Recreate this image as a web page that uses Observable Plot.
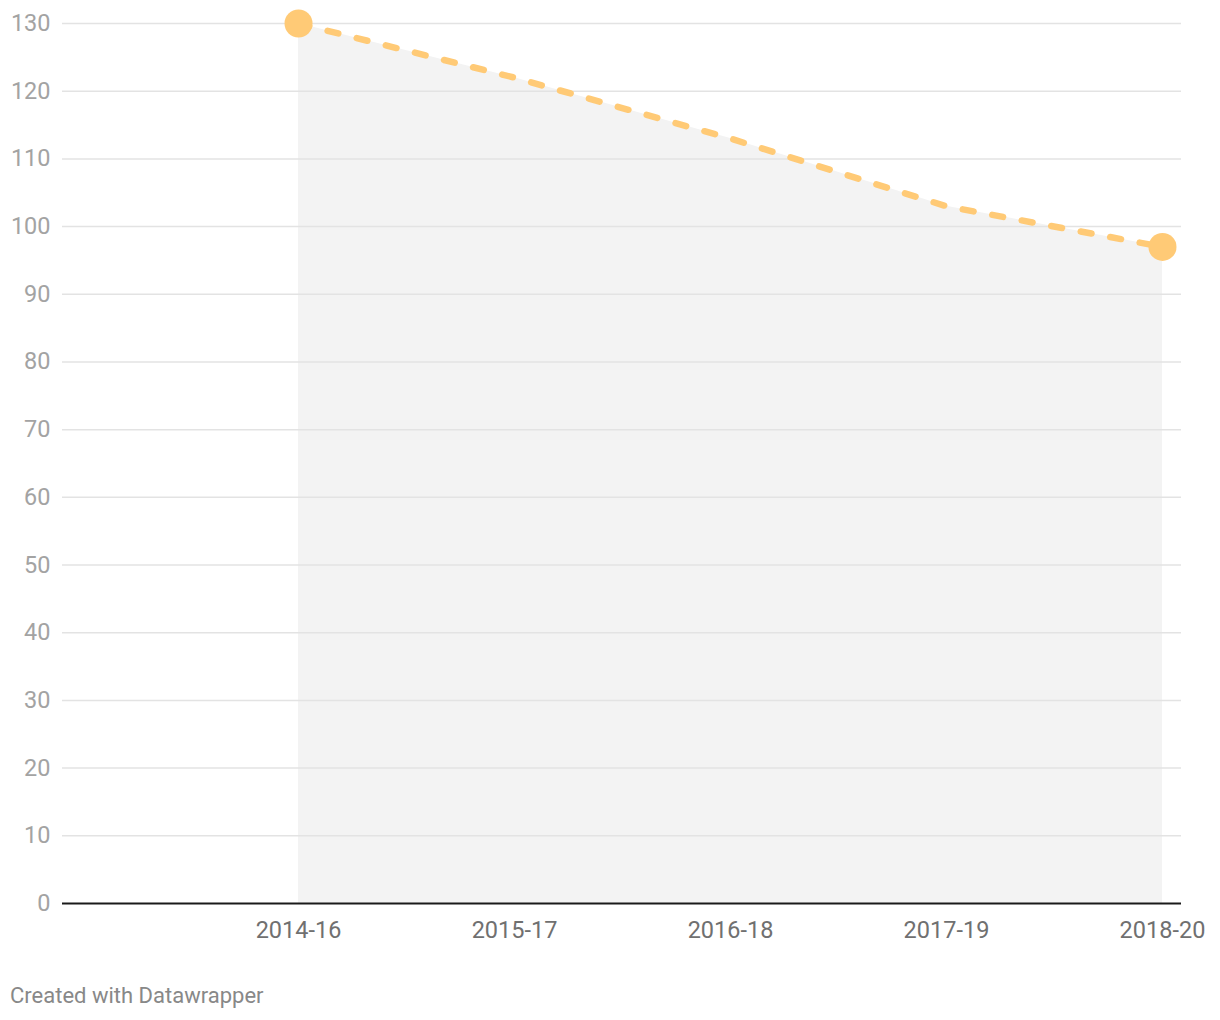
<!DOCTYPE html>
<html>
<head>
<meta charset="utf-8">
<script src="https://cdn.jsdelivr.net/npm/d3@7"></script>
<script src="https://cdn.jsdelivr.net/npm/@observablehq/plot@0.6"></script>
<style>
  body { margin: 0; background: #fff; font-family: Roboto, "Noto Sans", sans-serif; }
  #chart svg { display: block; }
  .caption { font-family: Roboto, sans-serif; font-size: 22px; color: #888; margin: 8px 0 0 10px; line-height: 26px; }
</style>
</head>
<body>
<div id="chart"></div>
<div class="caption">Created with Datawrapper</div>
<script>
const periods = ["2014-16", "2015-17", "2016-18", "2017-19", "2018-20"];
const values = [130, 122, 113, 103, 97];
const yTicks = [0, 10, 20, 30, 40, 50, 60, 70, 80, 90, 100, 110, 120, 130];

const data = periods.map((p, i) => ({ i, period: p, value: values[i] }));
const ends = [data[0], data[data.length - 1]];

const chart = Plot.plot({
  width: 1220,
  height: 975,
  marginLeft: 62,
  marginRight: 39,
  marginTop: 23,
  marginBottom: 72,
  style: { fontFamily: "Roboto, sans-serif", background: "#fff" },
  x: { type: "linear", domain: [-1.0927, 4.088], label: null },
  y: { domain: [0, 130], label: null },
  marks: [
    Plot.areaY(data, { x: "i", y: "value", fill: "#f3f3f3" }),
    Plot.ruleY(yTicks.filter(d => d > 0), { stroke: "#e3e3e3", strokeWidth: 1.5 }),
    Plot.axisY({ ticks: yTicks, tickSize: 0, tickPadding: 12, fontSize: 23.5, fill: "#a3a3a3", label: null }),
    Plot.axisX({ ticks: data.map(d => d.i), tickFormat: i => periods[i], tickSize: 0, tickPadding: 18, fontSize: 23.5, fill: "#707070", label: null }),
    Plot.lineY(data, { x: "i", y: "value", stroke: "#ffca76", strokeWidth: 6.5, strokeDasharray: "11 19", strokeLinecap: "round" }),
    Plot.ruleY([0], { stroke: "#1a1a1a", strokeWidth: 2 }),
    Plot.dot(ends, { x: "i", y: "value", r: 14, fill: "#ffca76" })
  ]
});
document.getElementById("chart").appendChild(chart);
</script>
</body>
</html>
